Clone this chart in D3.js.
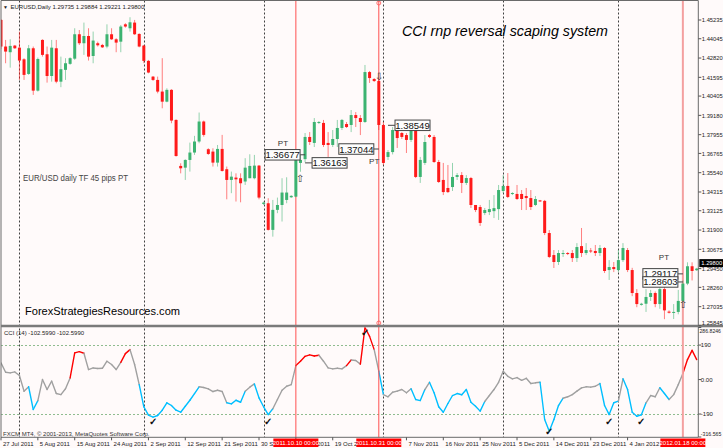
<!DOCTYPE html>
<html><head><meta charset="utf-8">
<script src="https://cdn.jsdelivr.net/npm/d3@7/dist/d3.min.js"></script>
<style>
html,body{margin:0;padding:0;background:#fffafa;overflow:hidden}
svg{display:block}
text{font-family:"Liberation Sans",Arial,sans-serif}
</style></head><body>
<svg id="chart" width="723" height="448"></svg>
<script>
// ---------- DATA ----------
const open = [1.4524,1.4355,1.4319,1.4361,1.4348,1.4274,1.4181,1.4344,1.4075,1.4397,1.4306,1.4168,1.4344,1.4132,1.4207,1.4245,1.4278,1.4433,1.4376,1.4422,1.4295,1.4376,1.4365,1.4355,1.4433,1.4401,1.4386,1.4496,1.4471,1.4507,1.4435,1.4361,1.4264,1.4164,1.4143,1.4069,1.4005,1.4080,1.3889,1.3597,1.3586,1.3635,1.3682,1.3752,1.3879,1.3703,1.3688,1.3618,1.3705,1.3576,1.3508,1.3523,1.3519,1.3498,1.3519,1.3519,1.3599,1.3356,1.3360,1.3191,1.3318,1.3349,1.3381,1.3398,1.3402,
1.3616,1.3640,1.3781,1.3743,1.3870,1.3870,1.3743,1.3730,1.3768,1.3838,1.3863,1.3857,1.3920,1.3901,1.3876,1.4193,1.4149,1.4136,1.3857,1.3654,1.3685,1.3825,1.3806,1.3793,1.3762,1.3825,1.3527,1.3616,1.3793,1.3781,1.3622,1.3508,1.3457,1.3463,1.3527,1.3539,1.3489,1.3520,1.3349,1.3336,1.3298,1.3304,1.3310,1.3323,1.3438,1.3470,1.3419,1.3419,1.3419,1.3406,1.3393,1.3349,1.3378,1.3375,1.3171,1.3031,1.2987,1.3038,1.3044,1.3044,1.3012,1.3088,1.3044,1.3060,1.3057,1.3044,1.3076,1.2936,1.2955,1.2936,1.2999,1.3063,1.2936,1.2790,1.2715,1.2722,1.2765,1.2790,1.2720,1.2815,1.2672,1.2665,1.2670,1.2740,1.2850,1.2960,1.2935];
const high = [1.4530,1.4397,1.4401,1.4365,1.4450,1.4281,1.4365,1.4355,1.4285,1.4401,1.4355,1.4397,1.4397,1.4291,1.4281,1.4287,1.4471,1.4460,1.4507,1.4471,1.4450,1.4386,1.4372,1.4496,1.4471,1.4408,1.4492,1.4503,1.4541,1.4524,1.4439,1.4365,1.4270,1.4168,1.4164,1.4281,1.4090,1.4084,1.3893,1.3614,1.3639,1.3745,1.3788,1.3936,1.3885,1.3709,1.3709,1.3730,1.3794,1.3593,1.3561,1.3550,1.3550,1.3646,1.3671,1.3667,1.3603,1.3371,1.3392,1.3381,1.3396,1.3519,1.3525,1.3411,1.3635,
1.3666,1.3806,1.3812,1.3901,1.3882,1.3889,1.3812,1.3825,1.3889,1.3895,1.3876,1.3952,1.3939,1.3920,1.4238,1.4200,1.4155,1.4155,1.3876,1.3698,1.3844,1.3857,1.3812,1.3806,1.3844,1.3844,1.3654,1.3793,1.3800,1.3793,1.3635,1.3616,1.3603,1.3616,1.3552,1.3558,1.3539,1.3527,1.3349,1.3349,1.3330,1.3381,1.3412,1.3476,1.3539,1.3552,1.3430,1.3476,1.3444,1.3457,1.3444,1.3406,1.3381,1.3381,1.3190,1.3063,1.3063,1.3063,1.3050,1.3063,1.3107,1.3203,1.3107,1.3076,1.3095,1.3095,1.3082,1.2999,1.2987,1.3063,1.3107,1.3076,1.2950,1.2815,1.2728,1.2815,1.2810,1.2800,1.2845,1.2880,1.2680,1.2720,1.2810,1.2870,1.2985,1.2985,1.2950];
const low = [1.4340,1.4249,1.4221,1.4340,1.4143,1.4143,1.4175,1.4048,1.4069,1.4291,1.4126,1.4132,1.4122,1.4097,1.4143,1.4239,1.4270,1.4365,1.4302,1.4266,1.4249,1.4355,1.4346,1.4344,1.4397,1.4319,1.4319,1.4475,1.4450,1.4429,1.4350,1.4249,1.4185,1.4137,1.4058,1.3963,1.4001,1.3868,1.3656,1.3550,1.3508,1.3561,1.3667,1.3741,1.3783,1.3667,1.3593,1.3593,1.3561,1.3385,1.3424,1.3371,1.3366,1.3476,1.3519,1.3512,1.3385,1.3349,1.3187,1.3148,1.3297,1.3244,1.3360,1.3394,1.3398,
1.3560,1.3620,1.3730,1.3717,1.3863,1.3717,1.3654,1.3717,1.3717,1.3825,1.3838,1.3812,1.3844,1.3793,1.3870,1.4124,1.4130,1.3825,1.3603,1.3635,1.3670,1.3711,1.3768,1.3679,1.3749,1.3520,1.3489,1.3603,1.3774,1.3616,1.3489,1.3412,1.3425,1.3438,1.3508,1.3425,1.3476,1.3330,1.3304,1.3216,1.3285,1.3285,1.3266,1.3254,1.3425,1.3393,1.3412,1.3381,1.3317,1.3317,1.3317,1.3342,1.3368,1.3158,1.3012,1.2949,1.2968,1.3019,1.3031,1.2987,1.2987,1.3019,1.3031,1.3044,1.3025,1.3025,1.2917,1.2873,1.2923,1.2923,1.2987,1.2923,1.2770,1.2700,1.2710,1.2670,1.2740,1.2700,1.2690,1.2624,1.2660,1.2625,1.2655,1.2730,1.2840,1.2870,1.2930];
const close = [1.4355,1.4323,1.4359,1.4344,1.4266,1.4175,1.4344,1.4075,1.4276,1.4302,1.4168,1.4348,1.4132,1.4211,1.4249,1.4281,1.4433,1.4376,1.4422,1.4291,1.4393,1.4363,1.4350,1.4433,1.4401,1.4380,1.4482,1.4482,1.4509,1.4433,1.4355,1.4264,1.4190,1.4143,1.4069,1.4005,1.4080,1.3885,1.3660,1.3582,1.3635,1.3682,1.3752,1.3879,1.3794,1.3673,1.3618,1.3705,1.3565,1.3508,1.3529,1.3512,1.3487,1.3586,1.3597,1.3599,1.3396,1.3364,1.3191,1.3318,1.3349,1.3428,1.3428,1.3407,1.3666,
1.3635,1.3781,1.3749,1.3876,1.3876,1.3730,1.3730,1.3768,1.3838,1.3889,1.3844,1.3920,1.3901,1.3876,1.4193,1.4155,1.4136,1.3857,1.3616,1.3685,1.3825,1.3774,1.3781,1.3762,1.3825,1.3527,1.3635,1.3749,1.3781,1.3622,1.3495,1.3431,1.3431,1.3527,1.3539,1.3489,1.3520,1.3349,1.3317,1.3235,1.3317,1.3323,1.3329,1.3444,1.3470,1.3400,1.3425,1.3387,1.3387,1.3393,1.3336,1.3387,1.3372,1.3171,1.3019,1.2987,1.3044,1.3044,1.3038,1.3012,1.3082,1.3044,1.3063,1.3054,1.3044,1.3076,1.2930,1.2955,1.2942,1.2999,1.3076,1.2936,1.2790,1.2720,1.2722,1.2765,1.2790,1.2720,1.2815,1.2680,1.2665,1.2670,1.2740,1.2850,1.2960,1.2930,1.2945];

const cci = [92,40,37,42,22,-64,-40,-165,-116,0,-55,-9,-77,-83,-51,9,147,154,145,55,64,61,62,101,83,55,95,143,165,83,-28,-150,-196,-207,-198,-169,-128,-143,-169,-180,-147,-114,-77,-40,-44,-51,-66,-59,-66,-128,-134,-114,-125,-64,-42,-24,-101,-150,-193,-161,-110,-59,-37,-28,77,
101,128,136,130,134,101,64,59,62,59,77,108,105,85,286.8,238,165,46,-83,-95,-70,-64,-55,-73,-51,-110,-116,-55,-15,-73,-150,-180,-132,-88,-77,-84,-55,-125,-147,-174,-121,-88,-55,-15,46,18,4,11,-4,7,-22,-18,-15,-220,-285,-220,-143,-103,-95,-83,-64,-46,-40,-42,-37,-22,-143,-193,-128,-119,4,-55,-180,-202,-194,-128,-88,-95,-45,-77,-110,-83,-28,33,110,161,110];
// colour of the segment ending at each bar: grey by default
const cciBlue = [7,8,31,32,33,34,35,36,37,38,39,40,41,42,43,50,51,52,53,56,57,58,59,83,90,91,92,94,95,96,97,98,99,100,101,102,103,104,105,118,119,120,121,122,131,132,133,134,136,137,138,139,140,144,145];
const cciRed = [16,17,18,27,28,65,66,67,68,69,76,79,80,81,149,150,151];

const priceTicks = [1.45235,1.44045,1.42820,1.41595,1.40405,1.39180,1.37955,1.36765,1.35540,1.34315,1.33125,1.31900,1.30675,1.29450,1.28260,1.27035,1.25845];
const cciTicks = [286.8246,190,0,-190,-316.565];
const cciTickLabels = ["286.8246","190","0.00","-190","-316.565"];
const cciLevels = [190,-190];
const lastPrice = 1.29800;

const dateBars = [0,8,16,24,32,40,48,56,64,72,88,96,104,112,120,128,136];
const dateLabels = ["27 Jul 2011","5 Aug 2011","15 Aug 2011","24 Aug 2011","2 Sep 2011","12 Sep 2011","21 Sep 2011","30 Sep 2011","10 Oct 2011","19 Oct 2011","7 Nov 2011","16 Nov 2011","25 Nov 2011","5 Dec 2011","14 Dec 2011","23 Dec 2011","4 Jan 2012"];
const monthBars = [4,31,57,83,109,134];
const markerBars = [64,82,148];
const markerLabels = ["2011.10.10 00:00","2011.10.31 00:00","2012.01.18 00:00"];

const boxBars = [66,66,82,84,148,148];
const boxPrices = [1.36677,1.36163,1.37044,1.38549,1.29117,1.28603];
const boxSides = ["left","right","left","right","left","left"];
const ptBars = [61.2,81,143.9];
const ptPrices = [1.37426,1.36283,1.30187];
const arrowBars = [65,82,148];
const arrowPrices = [1.35203,1.41680,1.27203];
const arrowGlyphs = ["\u21E7","\u21E9","\u21E7"];
const checkBars = [33,58,79,119,132,139];
const checkValues = [-228,-228,262,-285,-228,-228];

// ---------- DRAW ----------
const svg = d3.select("#chart");
const n = open.length;
const x = d3.scaleLinear().domain([0, n-1]).range([1, 696.7]);
const y = d3.scaleLinear().domain([1.25845, 1.46378]).range([325.4, 2]);
const yc = d3.scaleLinear().domain([-316.565, 286.8246]).range([437, 327.5]);
const AX = 698.3, TOP = 0.5, SEP = 326, BOT = 437.3;

svg.append("rect").attr("width",723).attr("height",448).attr("fill","#fffafa");

const defs = svg.append("defs");
defs.append("clipPath").attr("id","cm").append("rect").attr("x",1).attr("y",1).attr("width",AX-1).attr("height",SEP-2);
defs.append("clipPath").attr("id","cc").append("rect").attr("x",1).attr("y",SEP+1.5).attr("width",AX-1).attr("height",BOT-SEP-1.5);

// month separators
svg.append("g").selectAll("line").data(monthBars).join("line")
  .attr("x1",d=>Math.round(x(d))+0.5).attr("x2",d=>Math.round(x(d))+0.5)
  .attr("y1",TOP).attr("y2",BOT)
  .attr("stroke","#404040").attr("stroke-width",1).attr("stroke-dasharray","2,2");

// CCI levels
const gc = svg.append("g").attr("clip-path","url(#cc)");
gc.selectAll("line.lvl").data(cciLevels).join("line").attr("class","lvl")
  .attr("x1",1).attr("x2",AX).attr("y1",d=>Math.round(yc(d))+0.5).attr("y2",d=>Math.round(yc(d))+0.5)
  .attr("stroke","#8fbc8f").attr("stroke-width",1).attr("stroke-dasharray","2,2");

// vertical marker lines
svg.append("g").selectAll("line").data(markerBars).join("line")
  .attr("x1",d=>x(d)).attr("x2",d=>x(d)).attr("y1",TOP).attr("y2",BOT)
  .attr("stroke",(d,i)=> i==2 ? "#f4a0a0" : "#ff5050").attr("stroke-width",(d,i)=> i==2 ? 2 : 1);
svg.append("g").selectAll("circle").data([TOP+2.5, SEP-3]).join("circle")
  .attr("cx",x(markerBars[1])).attr("cy",d=>d).attr("r",2).attr("fill","none").attr("stroke","#ff5050").attr("stroke-width",0.8);

// candles
const gm = svg.append("g").attr("clip-path","url(#cm)");
const idx = d3.range(n);
const col = i => close[i] >= open[i] ? "#3cb371" : "#ff1a1a";
gm.selectAll("line.wick").data(idx).join("line").attr("class","wick")
  .attr("x1",i=>x(i)).attr("x2",i=>x(i)).attr("y1",i=>y(high[i])).attr("y2",i=>y(low[i]))
  .attr("stroke",col).attr("stroke-opacity",0.55).attr("stroke-width",1);
gm.selectAll("rect.body").data(idx).join("rect").attr("class","body")
  .attr("x",i=>x(i)-1.5).attr("width",3)
  .attr("y",i=>y(Math.max(open[i],close[i])))
  .attr("height",i=>Math.max(1, Math.abs(y(open[i])-y(close[i]))))
  .attr("fill",col);

// CCI line
const blueSet = new Set(cciBlue), redSet = new Set(cciRed);
const segCol = i => blueSet.has(i) ? "#00bfff" : redSet.has(i) ? "#ff0000" : "#a0a0a0";
gc.selectAll("line.cci").data(d3.range(1,n)).join("line").attr("class","cci")
  .attr("x1",i=>x(i-1)).attr("y1",i=>yc(cci[i-1])).attr("x2",i=>x(i)).attr("y2",i=>yc(cci[i]))
  .attr("stroke",segCol).attr("stroke-width",1.4).attr("stroke-linecap","round");

// check marks
svg.append("g").selectAll("text").data(d3.range(checkBars.length)).join("text")
  .attr("x",i=>x(checkBars[i])).attr("y",i=>yc(checkValues[i])+4)
  .attr("text-anchor","middle").attr("font-size",10).attr("font-family","DejaVu Sans").attr("font-weight","bold")
  .attr("fill","#111").text("\u2713");

// arrows
svg.append("g").selectAll("text").data(d3.range(arrowBars.length)).join("text")
  .attr("x",i=>x(arrowBars[i])).attr("y",i=>y(arrowPrices[i])+4)
  .attr("text-anchor","middle").attr("font-size",10).attr("font-family","DejaVu Sans")
  .attr("fill","#333").text(i=>arrowGlyphs[i]);

// price boxes
const gb = svg.append("g");
boxBars.forEach((b,i)=>{
  const px = x(b), py = y(boxPrices[i]);
  const w = 35, h = 10.5;
  const bx = boxSides[i]=="left" ? px-5-w : px+7;
  gb.append("line").attr("x1", boxSides[i]=="left" ? bx+w : px).attr("x2", boxSides[i]=="left" ? px : bx)
    .attr("y1",py).attr("y2",py).attr("stroke","#444").attr("stroke-width",1);
  gb.append("rect").attr("x",bx).attr("y",py-h/2).attr("width",w).attr("height",h)
    .attr("fill","#fdfdfd").attr("stroke","#444").attr("stroke-width",1);
  gb.append("text").attr("x",bx+w/2).attr("y",py+3.5).attr("text-anchor","middle")
    .attr("font-size",9.5).attr("fill","#111").text(boxPrices[i].toFixed(5));
});
// PT texts
svg.append("g").selectAll("text").data(d3.range(ptBars.length)).join("text")
  .attr("x",i=>x(ptBars[i])).attr("y",i=>y(ptPrices[i])+3)
  .attr("text-anchor","middle").attr("font-size",8).attr("fill","#333").text("PT");

// frame
const fr = svg.append("g").attr("stroke","#6a6a6a").attr("fill","none");
fr.append("line").attr("x1",1).attr("x2",1).attr("y1",TOP).attr("y2",BOT);
fr.append("line").attr("x1",1).attr("x2",AX).attr("y1",TOP).attr("y2",TOP);
fr.append("line").attr("x1",AX).attr("x2",AX).attr("y1",TOP).attr("y2",BOT);
fr.append("line").attr("x1",1).attr("x2",AX).attr("y1",BOT).attr("y2",BOT);
svg.append("line").attr("x1",1).attr("x2",723).attr("y1",SEP).attr("y2",SEP).attr("stroke","#7a7a7a").attr("stroke-width",2.5);

// price axis
const ga = svg.append("g");
ga.selectAll("line").data(priceTicks).join("line")
  .attr("x1",AX).attr("x2",AX+3).attr("y1",d=>y(d)).attr("y2",d=>y(d)).attr("stroke","#555");
ga.selectAll("text").data(priceTicks).join("text")
  .attr("x",AX+3.5).attr("y",d=>Math.min(y(d)+2.2, SEP-1.5)).attr("font-size",6).attr("fill","#222")
  .attr("textLength",21).attr("lengthAdjust","spacingAndGlyphs")
  .text(d=>d.toFixed(5));
// last price box
const lpY = y(lastPrice);
ga.append("rect").attr("x",AX+1).attr("y",lpY-4).attr("width",24).attr("height",8).attr("fill","#000");
ga.append("text").attr("x",AX+3).attr("y",lpY+2.2).attr("font-size",6).attr("fill","#fff")
  .attr("textLength",21).attr("lengthAdjust","spacingAndGlyphs").text(lastPrice.toFixed(5));

// CCI axis
const gca = svg.append("g");
gca.selectAll("line").data(cciTicks).join("line")
  .attr("x1",AX).attr("x2",AX+3).attr("y1",d=>yc(d)).attr("y2",d=>yc(d)).attr("stroke","#555");
const cciLen = [21.5,0,0,0,20.5];
gca.selectAll("text").data(d3.range(cciTicks.length)).join("text")
  .attr("x",i=> i==0 ? AX+1.2 : AX+2.5).attr("y",i=>Math.max(SEP+6.5, Math.min(yc(cciTicks[i])+2.2, BOT-1)))
  .attr("font-size",i=> i==0 ? 5.6 : 6).attr("fill","#222")
  .each(function(i){ if (cciLen[i]) d3.select(this).attr("textLength",cciLen[i]).attr("lengthAdjust","spacingAndGlyphs"); })
  .text(i=>cciTickLabels[i]);

// date axis
const gd = svg.append("g");
gd.selectAll("line").data(dateBars).join("line")
  .attr("x1",d=>x(d)).attr("x2",d=>x(d)).attr("y1",BOT).attr("y2",BOT+3).attr("stroke","#555");
gd.selectAll("text").data(d3.range(dateBars.length)).join("text")
  .attr("x",i=>x(dateBars[i])+2).attr("y",445.5).attr("font-size",6).attr("fill","#222").text(i=>dateLabels[i]);
markerBars.forEach((b,i)=>{
  const cx = x(b), w = 45;
  gd.append("rect").attr("x",cx-w/2).attr("y",438.5).attr("width",w).attr("height",8.5).attr("fill","#ff0000");
  gd.append("text").attr("x",cx).attr("y",445.3).attr("text-anchor","middle").attr("font-size",6).attr("fill","#fff").text(markerLabels[i]);
});

// texts
svg.append("text").attr("x",3).attr("y",8.5).attr("font-size",5).attr("fill","#222").text("\u25BC");
svg.append("text").attr("x",10.5).attr("y",8.5).attr("font-size",6).attr("fill","#222")
  .text("EURUSD,Daily  1.29735 1.29884 1.29221 1.29800");
svg.append("text").attr("x",402).attr("y",36).attr("font-size",15).attr("font-style","italic")
  .attr("textLength",206).attr("lengthAdjust","spacingAndGlyphs").attr("fill","#000")
  .text("CCI rnp reversal scaping system");
svg.append("text").attr("x",23).attr("y",181).attr("font-size",8.5)
  .attr("textLength",105).attr("lengthAdjust","spacingAndGlyphs").attr("fill","#444")
  .text("EUR/USD daily TF 45 pips PT");
svg.append("text").attr("x",25).attr("y",314.5).attr("font-size",11.5)
  .attr("textLength",155).attr("lengthAdjust","spacingAndGlyphs").attr("fill","#000")
  .text("ForexStrategiesResources.com");
svg.append("text").attr("x",4).attr("y",335).attr("font-size",6).attr("fill","#222")
  .text("CCI (14) -102.5990 -102.5990");
svg.append("text").attr("x",3).attr("y",436).attr("font-size",6).attr("fill","#333")
  .text("FXCM MT4, \u00A9 2001-2013, MetaQuotes Software Corp.");
</script>
</body></html>
